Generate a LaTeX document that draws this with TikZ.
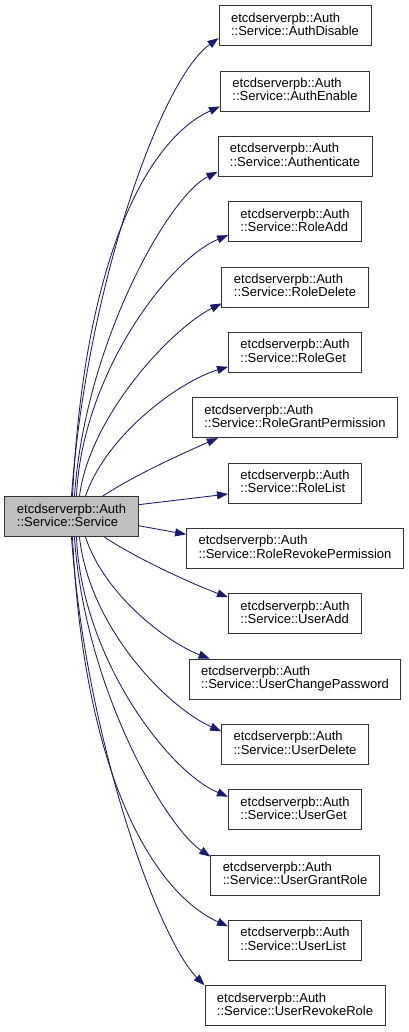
\documentclass[tikz,border=0pt]{standalone}
\usepackage{fontspec}
\setmainfont{Liberation Sans}
\usetikzlibrary{arrows.meta,calc,positioning}

\definecolor{midnightblue}{RGB}{25,25,112}
\newcommand{\dpt}{\rule[-3pt]{0pt}{3pt}}

\tikzset{
  fn/.style={draw=black!80, line width=0.9pt, align=left, inner xsep=12pt,
    inner ysep=0pt, minimum height=40pt, font=\fontsize{13}{13.3}\selectfont},
  cur/.style={fn, fill=black!25},
  calllink/.style={draw=midnightblue, line width=0.85pt,
    -{Triangle[length=11pt,width=8pt]}},
}

\begin{document}
\begin{tikzpicture}[x=1pt,y=-1pt]
  \fill[white] (0,0) rectangle (408,1032);

  % Caller
  \node[cur] (src) at (71.5,516.7) {etcdserverpb::Auth\\::Service::Service\dpt};

  % Callees
  \foreach \nm [count=\i from 0] in {AuthDisable,AuthEnable,Authenticate,RoleAdd,
      RoleDelete,RoleGet,RoleGrantPermission,RoleList,RoleRevokePermission,UserAdd,
      UserChangePassword,UserDelete,UserGet,UserGrantRole,UserList,UserRevokeRole} {
    \node[fn] (t\i) at (295,25.7+65.33*\i) {etcdserverpb::Auth\\::Service::\nm\dpt};
  }

  % Calls going up
  \draw[calllink] ($(src.north west)+(67,0)$) .. controls +(15,-207) and +(-58,41) .. ($(t0.south west)+(0,-8)$);
  \draw[calllink] ($(src.north west)+(68,0)$) .. controls +(12,-247) and +(-69,31) .. ($(t1.south west)+(0,-5)$);
  \draw[calllink] ($(src.north west)+(70,0)$) .. controls +(10,-150) and +(-50,25) .. ($(t2.south west)+(0,-5)$);
  \draw[calllink] ($(src.north west)+(72,0)$) .. controls +(5,-120) and +(-60,25) .. ($(t3.south west)+(0,-7)$);
  \draw[calllink] ($(src.north west)+(75,0)$) .. controls +(10,-80) and +(-50,25) .. ($(t4.south west)+(0,-4)$);
  \draw[calllink] ($(src.north west)+(81,0)$) .. controls +(20,-60) and +(-50,15) .. ($(t5.south west)+(0,-6)$);
  \draw[calllink] ($(src.north west)+(98,0)$) .. controls +(30,-20) and +(-35,15) .. ($(t6.south west)+(26,0)$);

  % Calls to the side
  \draw[calllink] ($(src.east)+(0,-12)$) -- ($(t7.west)+(0,11)$);
  \draw[calllink] ($(src.east)+(0,9)$) -- ($(t8.west)+(0,-14)$);

  % Calls going down
  \draw[calllink] ($(src.south west)+(100,0)$) .. controls +(30,20) and +(-40,-15) .. ($(t9.north west)+(0,4)$);
  \draw[calllink] ($(src.south west)+(81,0)$) .. controls +(20,60) and +(-40,-15) .. ($(t10.north west)+(21,0)$);
  \draw[calllink] ($(src.south west)+(75,0)$) .. controls +(10,90) and +(-55,-25) .. ($(t11.west)+(0,-13)$);
  \draw[calllink] ($(src.south west)+(72,0)$) .. controls +(5,120) and +(-60,-25) .. ($(t12.west)+(0,-13)$);
  \draw[calllink] ($(src.south west)+(70,0)$) .. controls +(10,150) and +(-45,-30) .. ($(t13.north west)+(0,2)$);
  \draw[calllink] ($(src.south west)+(68,0)$) .. controls +(12,250) and +(-69,-31) .. ($(t14.west)+(0,-14)$);
  \draw[calllink] ($(src.south west)+(67,0)$) .. controls +(15,207) and +(-45,-45) .. (t15.north west);
\end{tikzpicture}
\end{document}
